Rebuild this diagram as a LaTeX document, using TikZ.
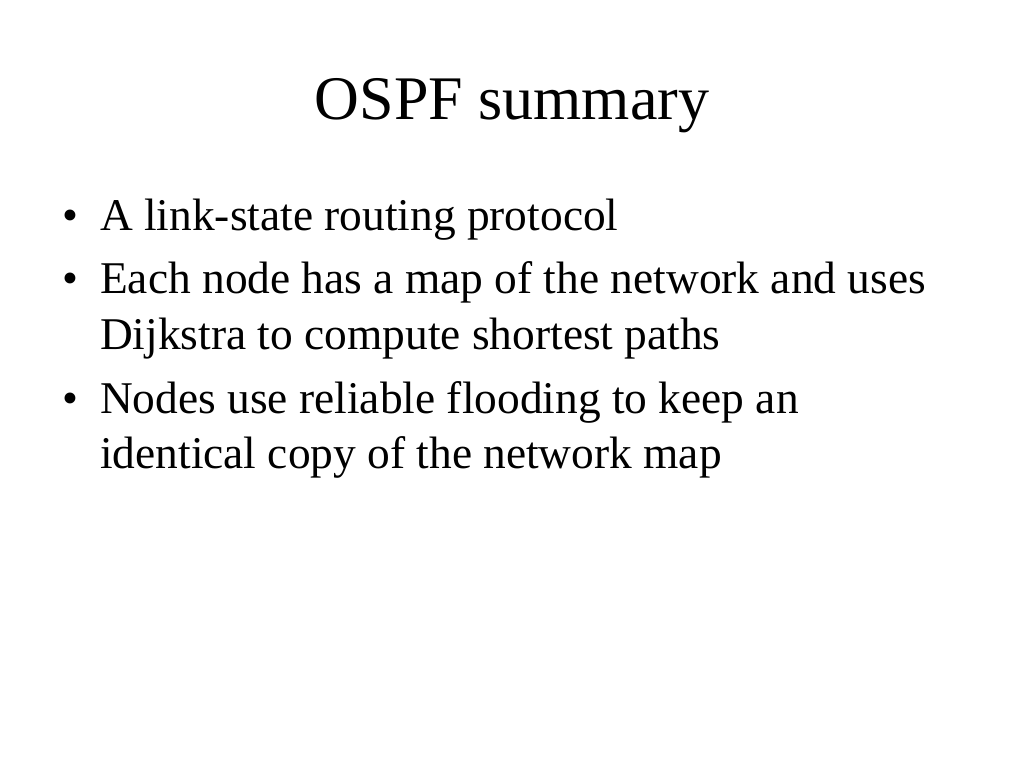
\documentclass[tikz,border=0pt]{standalone}
\usepackage{fontspec}
\setmainfont{Liberation Serif}
\begin{document}
\begin{tikzpicture}[x=1pt,y=-1pt,
  line/.style={anchor=base west,inner sep=0pt,font=\fontsize{45.4}{50}\selectfont},
  bul/.style={anchor=base,inner sep=0pt,font=\fontsize{45.4}{50}\selectfont}]
\useasboundingbox (0,0) rectangle (1024,768);
\node[anchor=base,inner sep=0pt,font=\fontsize{62}{70}\selectfont] (title) at (512,119) {OSPF summary};
\node[bul] (b1) at (70,230) {•};
\node[line] (l1) at (100,230) {A link-state routing protocol};
\node[bul] (b2) at (70,293) {•};
\node[line] (l2) at (100,293) {Each node has a map of the network and uses};
\node[line] (l3) at (100,349) {Dijkstra to compute shortest paths};
\node[bul] (b3) at (70,413) {•};
\node[line] (l4) at (100,413) {Nodes use reliable flooding to keep an};
\node[line] (l5) at (100,468) {identical copy of the network map};
\end{tikzpicture}
\end{document}
